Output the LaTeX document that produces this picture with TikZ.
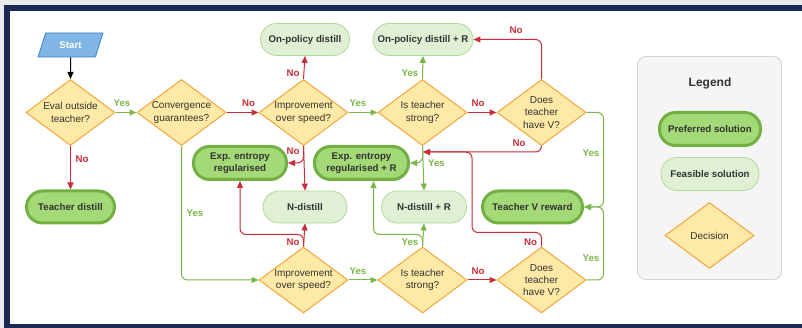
\documentclass[tikz,border=0pt]{standalone}
\usepackage{fontspec}
\setmainfont{Liberation Sans}
\usetikzlibrary{arrows.meta,shapes.geometric}

\definecolor{navy}{HTML}{1B2A55}
\definecolor{outergray}{HTML}{E9EAEE}
\definecolor{txt}{HTML}{333333}
\definecolor{decfill}{HTML}{FFE9A6}
\definecolor{decborder}{HTML}{F4A63A}
\definecolor{preffill}{HTML}{A3D977}
\definecolor{prefborder}{HTML}{72B043}
\definecolor{feasfill}{HTML}{DFF0D4}
\definecolor{feasborder}{HTML}{B2DA96}
\definecolor{yescol}{HTML}{7AB648}
\definecolor{nocol}{HTML}{C92D39}
\definecolor{startfill}{HTML}{80B6E6}
\definecolor{startborder}{HTML}{3B82C4}

\tikzset{
	decision/.style={diamond, draw=decborder, fill=decfill, line width=1pt, aspect=1.35, inner sep=0pt, minimum width=89pt, minimum height=66pt, align=center, text=txt, font=\fontsize{10}{12.3}\selectfont},
	preferred/.style={rectangle, rounded corners=16pt, draw=prefborder, fill=preffill, line width=3pt, align=center, text=txt, font=\bfseries\fontsize{9.7}{11.5}\selectfont},
	feasible/.style={rectangle, rounded corners=16pt, draw=feasborder, fill=feasfill, line width=0.8pt, align=center, text=txt, font=\bfseries\fontsize{9.7}{11.5}\selectfont},
	yesline/.style={draw=yescol, line width=1pt, rounded corners=6pt, -{Triangle[length=7pt,width=6pt]}},
	noline/.style={draw=nocol, line width=1pt, rounded corners=6pt, -{Triangle[length=7pt,width=6pt]}},
	yeslabel/.style={text=yescol, inner sep=0pt, font=\bfseries\fontsize{9.7}{11}\selectfont},
	nolabel/.style={text=nocol, inner sep=0pt, font=\bfseries\fontsize{9.7}{11}\selectfont}
}

\begin{document}
\begin{tikzpicture}[x=1pt, y=-1pt]
		%%%%% START %%%%%
		
		\useasboundingbox (0, 0) rectangle (802, 328);
		\fill[outergray] (0, 0) rectangle (802, 328);
		\fill[navy] (4, 5) rectangle (802, 328);
		\fill[white] (10, 11) rectangle (802, 324);
		
		\node[trapezium, trapezium left angle=72, trapezium right angle=108, trapezium stretches=true, minimum width=65pt, minimum height=24pt, draw=startborder, fill=startfill, line width=0.8pt, text=white, font=\bfseries\fontsize{9.7}{11}\selectfont] (start) at (70.5, 45) {Start};
		
		\node[decision] (evalq) at (70.5, 112.5) {Eval outside\\teacher?};
		\node[decision] (convq) at (181.5, 112.5) {Convergence\\guarantees?};
		\node[decision] (impq) at (303.5, 112.5) {Improvement\\over speed?};
		\node[decision] (strongq) at (422.5, 112.5) {Is teacher\\strong?};
		\node[decision] (haveVq) at (541.5, 112.5) {Does\\teacher\\have V?};
		
		\node[decision] (impqb) at (303.5, 280) {Improvement\\over speed?};
		\node[decision] (strongqb) at (422.5, 280) {Is teacher\\strong?};
		\node[decision] (haveVqb) at (541.5, 280) {Does\\teacher\\have V?};
		
		\node[feasible, minimum width=89pt, minimum height=32pt] (onpol) at (305, 39.5) {On-policy distill};
		\node[feasible, minimum width=100pt, minimum height=32pt] (onpolR) at (423, 39.5) {On-policy distill + R};
		\node[preferred, minimum width=93pt, minimum height=33pt] (expent) at (240, 163) {Exp. entropy\\regularised};
		\node[preferred, minimum width=94pt, minimum height=33pt] (expentR) at (361.5, 163) {Exp. entropy\\regularised + R};
		\node[feasible, minimum width=84pt, minimum height=32pt] (ndist) at (305, 207) {N-distill};
		\node[feasible, minimum width=85pt, minimum height=32pt] (ndistR) at (424, 207) {N-distill + R};
		\node[preferred, minimum width=88pt, minimum height=32pt] (tdist) at (70.5, 207) {Teacher distill};
		\node[preferred, minimum width=100pt, minimum height=32pt] (tvr) at (532.5, 207) {Teacher V reward};
		
		\coordinate (mergeR) at (423, 152);
		\coordinate (mergeV) at (472, 152);
		
		\draw[line width=1pt, -{Triangle[length=7pt,width=6pt]}] (start.south) -- (evalq.north);
		\draw[yesline] (evalq.east) -- (convq.west);
		\draw[noline] (evalq.south) -- (tdist.north);
		\draw[noline] (convq.east) -- (impq.west);
		\draw[yesline] (convq.south) |- (impqb.west);
		
		\draw[noline] (impq.north) -- (onpol.south);
		\draw[yesline] (impq.east) -- (strongq.west);
		\draw[noline] (impq.south) -- (ndist.north);
		\draw[noline] (impq.south) |- (expent.east);
		
		\draw[yesline] (strongq.north) -- (onpolR.south);
		\draw[noline] (strongq.east) -- (haveVq.west);
		\draw[yesline] (strongq.south) -- (ndistR.north);
		\draw[yesline] (strongq.south) |- (expentR.east);
		
		\draw[noline] (haveVq.north) |- (onpolR.east);
		\draw[noline] (haveVq.south) |- (mergeR);
		\draw[yesline] (haveVq.east) -- ++(17, 0) |- (tvr.east);
		
		\draw[yesline] (impqb.east) -- (strongqb.west);
		\draw[noline] (strongqb.east) -- (haveVqb.west);
		\draw[noline] (impqb.north) -- (ndist.south);
		\draw[noline] (impqb.north) -- ++(0, -12) -| (expent.south);
		\draw[yesline] (strongqb.north) -- (ndistR.south);
		\draw[yesline] (strongqb.north) -- ++(0, -12) -| ([xshift=12pt]expentR.south);
		\draw[noline] (haveVqb.north) -- ++(0, -14) -| (mergeV) -- (mergeR);
		\draw[yesline] (haveVqb.east) -- ++(17, 0) |- (tvr.east);
		
		\node[yeslabel] (yesA) at (122, 103) {Yes};
		\node[nolabel] (noA) at (82, 159) {No};
		\node[nolabel] (noB) at (248.5, 103) {No};
		\node[yeslabel] (yesB) at (195, 213) {Yes};
		\node[nolabel] (noC) at (293, 73) {No};
		\node[yeslabel] (yesC) at (358, 103) {Yes};
		\node[nolabel] (noD) at (293, 151) {No};
		\node[yeslabel] (yesD) at (410, 73) {Yes};
		\node[nolabel] (noE) at (478, 103) {No};
		\node[yeslabel] (yesE) at (436.5, 163) {Yes};
		\node[nolabel] (noF) at (516, 30) {No};
		\node[nolabel] (noG) at (519, 143) {No};
		\node[yeslabel] (yesF) at (591, 153) {Yes};
		\node[nolabel] (noH) at (293, 242) {No};
		\node[yeslabel] (yesG) at (358, 271) {Yes};
		\node[yeslabel] (yesH) at (410, 242) {Yes};
		\node[nolabel] (noI) at (478, 271) {No};
		\node[nolabel] (noJ) at (530.5, 242) {No};
		\node[yeslabel] (yesI) at (591, 258) {Yes};
		
		\node[rectangle, rounded corners=8pt, draw=black!17, fill=black!4, line width=0.8pt, minimum width=144pt, minimum height=223pt] (legend) at (709.5, 168) {};
		\node[text=txt, font=\bfseries\fontsize{12}{14}\selectfont] (legendtitle) at (710, 83.5) {Legend};
		\node[preferred, minimum width=101pt, minimum height=33pt] (legpref) at (710, 129) {Preferred solution};
		\node[feasible, minimum width=98pt, minimum height=33pt] (legfeas) at (710, 174) {Feasible solution};
		\node[decision] (legdec) at (709.5, 235.5) {Decision};
		
		%%%%% END %%%%%
\end{tikzpicture}
\end{document}
